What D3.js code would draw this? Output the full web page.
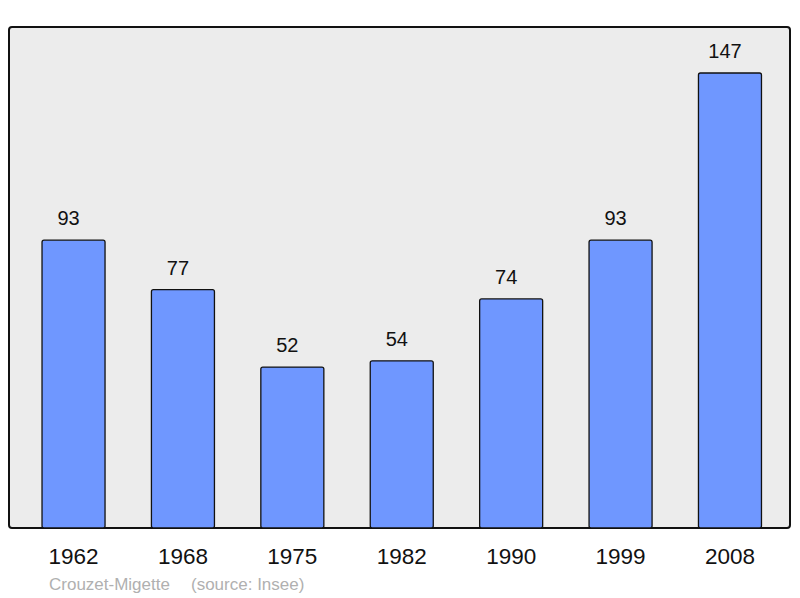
<!DOCTYPE html>
<html><head><meta charset="utf-8">
<script src="https://cdn.jsdelivr.net/npm/d3@7"></script>
<style>body{margin:0;background:#fff}svg{display:block}</style>
</head><body>
<script>
const years = ["1962","1968","1975","1982","1990","1999","2008"];
const populations = [93,77,52,54,74,93,147];
const footerName = "Crouzet-Migette";
const footerSource = "(source: Insee)";

const W = 800, H = 598;
const svg = d3.select("body").append("svg").attr("width", W).attr("height", H);
const panel = {x0: 9, y0: 27, x1: 790, y1: 528};
const font = "Liberation Sans, Arial, sans-serif";

svg.append("rect").attr("x", panel.x0).attr("y", panel.y0)
  .attr("width", panel.x1 - panel.x0).attr("height", panel.y1 - panel.y0)
  .attr("rx", 3).attr("fill", "#ececec").attr("stroke", "#111").attr("stroke-width", 2);

const x = d3.scaleBand().domain(years).range([9.2, 794.3]).paddingInner(0.424).paddingOuter(0.3);
const y = d3.scaleLinear().domain([0, 147]).range([528, 73]);

const g = svg.append("g");
g.selectAll("rect.bar").data(years).join("rect").attr("class", "bar")
  .attr("x", d => x(d)).attr("width", x.bandwidth())
  .attr("y", (d, i) => y(populations[i])).attr("height", (d, i) => y(0) - y(populations[i]))
  .attr("rx", 2).attr("fill", "#6f97ff").attr("stroke", "#111").attr("stroke-width", 1.3);

g.selectAll("text.val").data(years).join("text").attr("class", "val")
  .attr("x", d => x(d) + x.bandwidth() / 2 - 5).attr("y", (d, i) => y(populations[i]) - 15)
  .attr("text-anchor", "middle").attr("font-family", font)
  .attr("font-size", 20).attr("fill", "#111").text((d, i) => populations[i]);

const xAxis = d3.axisBottom(x).tickSize(0).tickPadding(0);
const ax = svg.append("g").attr("transform", `translate(0, ${panel.y1 + 36})`).call(xAxis);
ax.select(".domain").remove();
ax.selectAll("text").attr("font-family", font)
  .attr("font-size", 22.5).attr("fill", "#111").attr("dy", 0);

const foot = svg.append("g").attr("font-family", font).attr("font-size", 17).attr("fill", "#b0b0b0");
foot.append("text").attr("x", 49).attr("y", 590).text(footerName);
foot.append("text").attr("x", 191).attr("y", 590).text(footerSource);
</script>
</body></html>
